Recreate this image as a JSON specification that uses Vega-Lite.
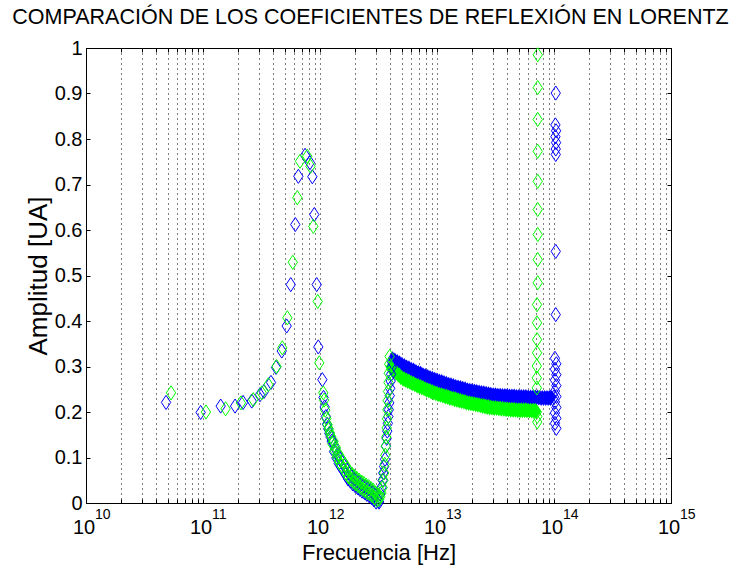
{
"$schema":"https://vega.github.io/schema/vega-lite/v6.json",
"width":585,"height":455,
"autosize":{"type":"none"},
"padding":{"left":86,"top":48,"right":69,"bottom":74},
"background":"white",
"title":{"text":"COMPARACIÓN DE LOS COEFICIENTES DE REFLEXIÓN EN LORENTZ","font":"Liberation Sans","fontSize":21.5,"fontWeight":"normal","color":"black","anchor":"middle","offset":10,"dx":-8},
"config":{"view":{"stroke":"black","strokeWidth":1},"font":"Liberation Sans"},
"data":{"values":[
{"frec":4.83e10,"amp":0.221,"serie":"C1"},{"frec":9.55e10,"amp":0.199,"serie":"C1"},{"frec":1.416e11,"amp":0.213,"serie":"C1"},{"frec":1.88e11,"amp":0.213,"serie":"C1"},{"frec":2.2e11,"amp":0.221,"serie":"C1"},{"frec":2.61e11,"amp":0.224,"serie":"C1"},{"frec":3.07e11,"amp":0.238,"serie":"C1"},{"frec":3.32e11,"amp":0.245,"serie":"C1"},{"frec":3.81e11,"amp":0.265,"serie":"C1"},{"frec":4.21e11,"amp":0.298,"serie":"C1"},{"frec":4.71e11,"amp":0.334,"serie":"C1"},{"frec":5.19e11,"amp":0.389,"serie":"C1"},{"frec":5.62e11,"amp":0.48,"serie":"C1"},{"frec":6.15e11,"amp":0.612,"serie":"C1"},{"frec":6.53e11,"amp":0.718,"serie":"C1"},{"frec":7.45e11,"amp":0.764,"serie":"C1"},{"frec":8.2e11,"amp":0.748,"serie":"C1"},{"frec":8.6e11,"amp":0.717,"serie":"C1"},{"frec":8.94e11,"amp":0.634,"serie":"C1"},{"frec":9.37e11,"amp":0.48,"serie":"C1"},{"frec":9.67e11,"amp":0.343,"serie":"C1"},{"frec":1.047e12,"amp":0.271,"serie":"C1"},
{"frec":1.072e12,"amp":0.232,"serie":"C1"},{"frec":1.096e12,"amp":0.211,"serie":"C1"},{"frec":1.122e12,"amp":0.19,"serie":"C1"},{"frec":1.148e12,"amp":0.173,"serie":"C1"},{"frec":1.175e12,"amp":0.163,"serie":"C1"},{"frec":1.202e12,"amp":0.153,"serie":"C1"},{"frec":1.23e12,"amp":0.145,"serie":"C1"},{"frec":1.259e12,"amp":0.136,"serie":"C1"},
{"frec":1.288e12,"amp":0.135,"serie":"C1"},{"frec":1.318e12,"amp":0.113,"serie":"C1"},{"frec":1.349e12,"amp":0.12,"serie":"C1"},{"frec":1.38e12,"amp":0.099,"serie":"C1"},{"frec":1.413e12,"amp":0.107,"serie":"C1"},{"frec":1.445e12,"amp":0.087,"serie":"C1"},{"frec":1.479e12,"amp":0.097,"serie":"C1"},{"frec":1.514e12,"amp":0.079,"serie":"C1"},{"frec":1.549e12,"amp":0.089,"serie":"C1"},{"frec":1.585e12,"amp":0.071,"serie":"C1"},{"frec":1.622e12,"amp":0.081,"serie":"C1"},{"frec":1.66e12,"amp":0.062,"serie":"C1"},{"frec":1.698e12,"amp":0.072,"serie":"C1"},{"frec":1.738e12,"amp":0.053,"serie":"C1"},{"frec":1.778e12,"amp":0.064,"serie":"C1"},{"frec":1.82e12,"amp":0.048,"serie":"C1"},{"frec":1.862e12,"amp":0.059,"serie":"C1"},{"frec":1.905e12,"amp":0.042,"serie":"C1"},{"frec":1.95e12,"amp":0.054,"serie":"C1"},{"frec":1.995e12,"amp":0.038,"serie":"C1"},{"frec":2.042e12,"amp":0.05,"serie":"C1"},{"frec":2.089e12,"amp":0.034,"serie":"C1"},{"frec":2.138e12,"amp":0.046,"serie":"C1"},{"frec":2.188e12,"amp":0.03,"serie":"C1"},{"frec":2.239e12,"amp":0.042,"serie":"C1"},{"frec":2.291e12,"amp":0.026,"serie":"C1"},{"frec":2.344e12,"amp":0.038,"serie":"C1"},{"frec":2.399e12,"amp":0.023,"serie":"C1"},{"frec":2.455e12,"amp":0.035,"serie":"C1"},{"frec":2.512e12,"amp":0.019,"serie":"C1"},{"frec":2.57e12,"amp":0.031,"serie":"C1"},{"frec":2.63e12,"amp":0.016,"serie":"C1"},{"frec":2.692e12,"amp":0.028,"serie":"C1"},{"frec":2.754e12,"amp":0.012,"serie":"C1"},{"frec":2.818e12,"amp":0.024,"serie":"C1"},{"frec":2.884e12,"amp":0.007,"serie":"C1"},{"frec":2.951e12,"amp":0.018,"serie":"C1"},{"frec":3.02e12,"amp":0.002,"serie":"C1"},{"frec":3.09e12,"amp":0.014,"serie":"C1"},{"frec":3.162e12,"amp":0.004,"serie":"C1"},
{"frec":3.199e12,"amp":0.002,"serie":"C1"},{"frec":3.273e12,"amp":0.02,"serie":"C1"},{"frec":3.365e12,"amp":0.035,"serie":"C1"},{"frec":3.428e12,"amp":0.05,"serie":"C1"},{"frec":3.475e12,"amp":0.066,"serie":"C1"},{"frec":3.532e12,"amp":0.08,"serie":"C1"},{"frec":3.597e12,"amp":0.096,"serie":"C1"},{"frec":3.664e12,"amp":0.125,"serie":"C1"},{"frec":3.715e12,"amp":0.142,"serie":"C1"},{"frec":3.758e12,"amp":0.158,"serie":"C1"},{"frec":3.802e12,"amp":0.175,"serie":"C1"},{"frec":3.837e12,"amp":0.19,"serie":"C1"},{"frec":3.873e12,"amp":0.205,"serie":"C1"},{"frec":3.908e12,"amp":0.22,"serie":"C1"},{"frec":3.945e12,"amp":0.236,"serie":"C1"},{"frec":3.981e12,"amp":0.252,"serie":"C1"},{"frec":4.018e12,"amp":0.268,"serie":"C1"},{"frec":4.055e12,"amp":0.283,"serie":"C1"},{"frec":4.093e12,"amp":0.298,"serie":"C1"},{"frec":4.13e12,"amp":0.31,"serie":"C1"},
{"frec":4.169e12,"amp":0.318,"serie":"C1"},{"frec":4.266e12,"amp":0.312,"serie":"C1"},{"frec":4.365e12,"amp":0.315,"serie":"C1"},{"frec":4.467e12,"amp":0.31,"serie":"C1"},{"frec":4.571e12,"amp":0.312,"serie":"C1"},{"frec":4.677e12,"amp":0.306,"serie":"C1"},{"frec":4.786e12,"amp":0.309,"serie":"C1"},{"frec":4.898e12,"amp":0.303,"serie":"C1"},{"frec":5.012e12,"amp":0.306,"serie":"C1"},{"frec":5.129e12,"amp":0.3,"serie":"C1"},{"frec":5.248e12,"amp":0.303,"serie":"C1"},{"frec":5.37e12,"amp":0.298,"serie":"C1"},{"frec":5.495e12,"amp":0.3,"serie":"C1"},{"frec":5.623e12,"amp":0.295,"serie":"C1"},{"frec":5.754e12,"amp":0.298,"serie":"C1"},{"frec":5.888e12,"amp":0.293,"serie":"C1"},{"frec":6.026e12,"amp":0.295,"serie":"C1"},{"frec":6.166e12,"amp":0.29,"serie":"C1"},{"frec":6.31e12,"amp":0.293,"serie":"C1"},{"frec":6.457e12,"amp":0.288,"serie":"C1"},{"frec":6.607e12,"amp":0.29,"serie":"C1"},{"frec":6.761e12,"amp":0.285,"serie":"C1"},{"frec":6.918e12,"amp":0.288,"serie":"C1"},{"frec":7.079e12,"amp":0.283,"serie":"C1"},{"frec":7.244e12,"amp":0.286,"serie":"C1"},{"frec":7.413e12,"amp":0.28,"serie":"C1"},{"frec":7.586e12,"amp":0.283,"serie":"C1"},{"frec":7.762e12,"amp":0.278,"serie":"C1"},{"frec":7.943e12,"amp":0.281,"serie":"C1"},{"frec":8.128e12,"amp":0.276,"serie":"C1"},{"frec":8.318e12,"amp":0.279,"serie":"C1"},{"frec":8.511e12,"amp":0.274,"serie":"C1"},{"frec":8.71e12,"amp":0.277,"serie":"C1"},{"frec":8.913e12,"amp":0.272,"serie":"C1"},{"frec":9.12e12,"amp":0.275,"serie":"C1"},{"frec":9.333e12,"amp":0.27,"serie":"C1"},{"frec":9.55e12,"amp":0.273,"serie":"C1"},{"frec":9.772e12,"amp":0.268,"serie":"C1"},
{"frec":1.0e13,"amp":0.271,"serie":"C1"},{"frec":1.023e13,"amp":0.266,"serie":"C1"},{"frec":1.047e13,"amp":0.269,"serie":"C1"},{"frec":1.072e13,"amp":0.264,"serie":"C1"},{"frec":1.096e13,"amp":0.268,"serie":"C1"},{"frec":1.122e13,"amp":0.263,"serie":"C1"},{"frec":1.148e13,"amp":0.266,"serie":"C1"},{"frec":1.175e13,"amp":0.261,"serie":"C1"},{"frec":1.202e13,"amp":0.264,"serie":"C1"},{"frec":1.23e13,"amp":0.259,"serie":"C1"},{"frec":1.259e13,"amp":0.262,"serie":"C1"},{"frec":1.288e13,"amp":0.257,"serie":"C1"},{"frec":1.318e13,"amp":0.261,"serie":"C1"},{"frec":1.349e13,"amp":0.256,"serie":"C1"},{"frec":1.38e13,"amp":0.259,"serie":"C1"},{"frec":1.413e13,"amp":0.254,"serie":"C1"},{"frec":1.445e13,"amp":0.257,"serie":"C1"},{"frec":1.479e13,"amp":0.253,"serie":"C1"},{"frec":1.514e13,"amp":0.256,"serie":"C1"},{"frec":1.549e13,"amp":0.251,"serie":"C1"},{"frec":1.585e13,"amp":0.255,"serie":"C1"},{"frec":1.622e13,"amp":0.25,"serie":"C1"},{"frec":1.66e13,"amp":0.253,"serie":"C1"},{"frec":1.698e13,"amp":0.249,"serie":"C1"},{"frec":1.738e13,"amp":0.252,"serie":"C1"},{"frec":1.778e13,"amp":0.247,"serie":"C1"},{"frec":1.82e13,"amp":0.25,"serie":"C1"},{"frec":1.862e13,"amp":0.246,"serie":"C1"},{"frec":1.905e13,"amp":0.249,"serie":"C1"},{"frec":1.95e13,"amp":0.245,"serie":"C1"},{"frec":1.995e13,"amp":0.248,"serie":"C1"},{"frec":2.042e13,"amp":0.244,"serie":"C1"},{"frec":2.089e13,"amp":0.247,"serie":"C1"},{"frec":2.138e13,"amp":0.243,"serie":"C1"},{"frec":2.188e13,"amp":0.246,"serie":"C1"},{"frec":2.239e13,"amp":0.241,"serie":"C1"},{"frec":2.291e13,"amp":0.245,"serie":"C1"},{"frec":2.344e13,"amp":0.24,"serie":"C1"},{"frec":2.399e13,"amp":0.244,"serie":"C1"},{"frec":2.455e13,"amp":0.239,"serie":"C1"},{"frec":2.512e13,"amp":0.243,"serie":"C1"},{"frec":2.57e13,"amp":0.238,"serie":"C1"},{"frec":2.63e13,"amp":0.242,"serie":"C1"},{"frec":2.692e13,"amp":0.237,"serie":"C1"},{"frec":2.754e13,"amp":0.241,"serie":"C1"},{"frec":2.818e13,"amp":0.236,"serie":"C1"},{"frec":2.884e13,"amp":0.24,"serie":"C1"},{"frec":2.951e13,"amp":0.236,"serie":"C1"},{"frec":3.02e13,"amp":0.239,"serie":"C1"},{"frec":3.09e13,"amp":0.235,"serie":"C1"},{"frec":3.162e13,"amp":0.239,"serie":"C1"},{"frec":3.236e13,"amp":0.235,"serie":"C1"},{"frec":3.311e13,"amp":0.238,"serie":"C1"},{"frec":3.388e13,"amp":0.234,"serie":"C1"},{"frec":3.467e13,"amp":0.238,"serie":"C1"},{"frec":3.548e13,"amp":0.234,"serie":"C1"},{"frec":3.631e13,"amp":0.237,"serie":"C1"},{"frec":3.715e13,"amp":0.233,"serie":"C1"},{"frec":3.802e13,"amp":0.237,"serie":"C1"},{"frec":3.89e13,"amp":0.233,"serie":"C1"},{"frec":3.981e13,"amp":0.237,"serie":"C1"},{"frec":4.074e13,"amp":0.232,"serie":"C1"},{"frec":4.169e13,"amp":0.236,"serie":"C1"},{"frec":4.266e13,"amp":0.232,"serie":"C1"},{"frec":4.365e13,"amp":0.236,"serie":"C1"},{"frec":4.467e13,"amp":0.232,"serie":"C1"},{"frec":4.571e13,"amp":0.236,"serie":"C1"},{"frec":4.677e13,"amp":0.232,"serie":"C1"},{"frec":4.786e13,"amp":0.235,"serie":"C1"},{"frec":4.898e13,"amp":0.231,"serie":"C1"},{"frec":5.012e13,"amp":0.235,"serie":"C1"},{"frec":5.129e13,"amp":0.231,"serie":"C1"},{"frec":5.248e13,"amp":0.235,"serie":"C1"},{"frec":5.37e13,"amp":0.231,"serie":"C1"},{"frec":5.495e13,"amp":0.235,"serie":"C1"},{"frec":5.623e13,"amp":0.231,"serie":"C1"},{"frec":5.754e13,"amp":0.235,"serie":"C1"},{"frec":5.888e13,"amp":0.231,"serie":"C1"},{"frec":6.026e13,"amp":0.234,"serie":"C1"},{"frec":6.166e13,"amp":0.23,"serie":"C1"},{"frec":6.31e13,"amp":0.234,"serie":"C1"},{"frec":6.457e13,"amp":0.23,"serie":"C1"},{"frec":6.607e13,"amp":0.234,"serie":"C1"},{"frec":6.761e13,"amp":0.23,"serie":"C1"},{"frec":6.918e13,"amp":0.234,"serie":"C1"},{"frec":7.079e13,"amp":0.23,"serie":"C1"},{"frec":7.244e13,"amp":0.234,"serie":"C1"},{"frec":7.413e13,"amp":0.23,"serie":"C1"},{"frec":7.586e13,"amp":0.233,"serie":"C1"},{"frec":7.762e13,"amp":0.229,"serie":"C1"},{"frec":7.943e13,"amp":0.233,"serie":"C1"},{"frec":8.128e13,"amp":0.229,"serie":"C1"},{"frec":8.318e13,"amp":0.233,"serie":"C1"},{"frec":8.511e13,"amp":0.229,"serie":"C1"},{"frec":8.71e13,"amp":0.233,"serie":"C1"},{"frec":8.913e13,"amp":0.229,"serie":"C1"},{"frec":9.12e13,"amp":0.233,"serie":"C1"},{"frec":9.333e13,"amp":0.229,"serie":"C1"},{"frec":9.55e13,"amp":0.233,"serie":"C1"},
{"frec":1.035e14,"amp":0.901,"serie":"C1"},{"frec":1.028e14,"amp":0.831,"serie":"C1"},{"frec":1.042e14,"amp":0.818,"serie":"C1"},{"frec":1.028e14,"amp":0.805,"serie":"C1"},{"frec":1.042e14,"amp":0.792,"serie":"C1"},{"frec":1.035e14,"amp":0.778,"serie":"C1"},{"frec":1.035e14,"amp":0.766,"serie":"C1"},{"frec":1.035e14,"amp":0.553,"serie":"C1"},{"frec":1.035e14,"amp":0.414,"serie":"C1"},
{"frec":1.019e14,"amp":0.318,"serie":"C1"},{"frec":1.047e14,"amp":0.306,"serie":"C1"},{"frec":1.019e14,"amp":0.294,"serie":"C1"},{"frec":1.047e14,"amp":0.282,"serie":"C1"},{"frec":1.019e14,"amp":0.27,"serie":"C1"},{"frec":1.047e14,"amp":0.258,"serie":"C1"},{"frec":1.019e14,"amp":0.246,"serie":"C1"},{"frec":1.0e14,"amp":0.233,"serie":"C1"},{"frec":1.047e14,"amp":0.234,"serie":"C1"},{"frec":1.019e14,"amp":0.222,"serie":"C1"},{"frec":1.047e14,"amp":0.21,"serie":"C1"},{"frec":1.019e14,"amp":0.198,"serie":"C1"},{"frec":1.047e14,"amp":0.186,"serie":"C1"},{"frec":1.019e14,"amp":0.175,"serie":"C1"},{"frec":1.047e14,"amp":0.164,"serie":"C1"},
{"frec":5.33e10,"amp":0.242,"serie":"C2"},{"frec":1.06e11,"amp":0.2,"serie":"C2"},{"frec":1.56e11,"amp":0.207,"serie":"C2"},{"frec":2.11e11,"amp":0.22,"serie":"C2"},{"frec":2.69e11,"amp":0.227,"serie":"C2"},{"frec":3.18e11,"amp":0.242,"serie":"C2"},{"frec":3.62e11,"amp":0.26,"serie":"C2"},{"frec":4.25e11,"amp":0.3,"serie":"C2"},{"frec":4.76e11,"amp":0.341,"serie":"C2"},{"frec":5.26e11,"amp":0.407,"serie":"C2"},{"frec":5.85e11,"amp":0.529,"serie":"C2"},{"frec":6.4e11,"amp":0.671,"serie":"C2"},{"frec":6.75e11,"amp":0.751,"serie":"C2"},{"frec":7.78e11,"amp":0.762,"serie":"C2"},{"frec":8.3e11,"amp":0.74,"serie":"C2"},{"frec":8.77e11,"amp":0.608,"serie":"C2"},{"frec":9.56e11,"amp":0.443,"serie":"C2"},{"frec":9.86e11,"amp":0.308,"serie":"C2"},{"frec":1.067e12,"amp":0.242,"serie":"C2"},
{"frec":1.084e12,"amp":0.226,"serie":"C2"},{"frec":1.109e12,"amp":0.204,"serie":"C2"},{"frec":1.135e12,"amp":0.186,"serie":"C2"},{"frec":1.161e12,"amp":0.172,"serie":"C2"},{"frec":1.189e12,"amp":0.163,"serie":"C2"},{"frec":1.216e12,"amp":0.154,"serie":"C2"},{"frec":1.245e12,"amp":0.146,"serie":"C2"},
{"frec":1.274e12,"amp":0.13,"serie":"C2"},{"frec":1.303e12,"amp":0.136,"serie":"C2"},{"frec":1.334e12,"amp":0.115,"serie":"C2"},{"frec":1.365e12,"amp":0.122,"serie":"C2"},{"frec":1.396e12,"amp":0.101,"serie":"C2"},{"frec":1.429e12,"amp":0.109,"serie":"C2"},{"frec":1.462e12,"amp":0.09,"serie":"C2"},{"frec":1.496e12,"amp":0.1,"serie":"C2"},{"frec":1.531e12,"amp":0.082,"serie":"C2"},{"frec":1.567e12,"amp":0.092,"serie":"C2"},{"frec":1.603e12,"amp":0.074,"serie":"C2"},{"frec":1.641e12,"amp":0.084,"serie":"C2"},{"frec":1.679e12,"amp":0.065,"serie":"C2"},{"frec":1.718e12,"amp":0.075,"serie":"C2"},{"frec":1.758e12,"amp":0.057,"serie":"C2"},{"frec":1.799e12,"amp":0.068,"serie":"C2"},{"frec":1.841e12,"amp":0.052,"serie":"C2"},{"frec":1.884e12,"amp":0.063,"serie":"C2"},{"frec":1.928e12,"amp":0.046,"serie":"C2"},{"frec":1.972e12,"amp":0.058,"serie":"C2"},{"frec":2.018e12,"amp":0.042,"serie":"C2"},{"frec":2.065e12,"amp":0.054,"serie":"C2"},{"frec":2.113e12,"amp":0.038,"serie":"C2"},{"frec":2.163e12,"amp":0.05,"serie":"C2"},{"frec":2.213e12,"amp":0.034,"serie":"C2"},{"frec":2.265e12,"amp":0.046,"serie":"C2"},{"frec":2.317e12,"amp":0.03,"serie":"C2"},{"frec":2.371e12,"amp":0.043,"serie":"C2"},{"frec":2.427e12,"amp":0.027,"serie":"C2"},{"frec":2.483e12,"amp":0.039,"serie":"C2"},{"frec":2.541e12,"amp":0.023,"serie":"C2"},{"frec":2.6e12,"amp":0.036,"serie":"C2"},{"frec":2.661e12,"amp":0.02,"serie":"C2"},{"frec":2.723e12,"amp":0.032,"serie":"C2"},{"frec":2.786e12,"amp":0.016,"serie":"C2"},{"frec":2.851e12,"amp":0.028,"serie":"C2"},{"frec":2.917e12,"amp":0.011,"serie":"C2"},{"frec":2.985e12,"amp":0.022,"serie":"C2"},{"frec":3.055e12,"amp":0.006,"serie":"C2"},{"frec":3.126e12,"amp":0.017,"serie":"C2"},
{"frec":3.199e12,"amp":0.008,"serie":"C2"},{"frec":3.273e12,"amp":0.014,"serie":"C2"},{"frec":3.35e12,"amp":0.022,"serie":"C2"},{"frec":3.428e12,"amp":0.034,"serie":"C2"},{"frec":3.483e12,"amp":0.05,"serie":"C2"},{"frec":3.532e12,"amp":0.066,"serie":"C2"},{"frec":3.573e12,"amp":0.085,"serie":"C2"},{"frec":3.614e12,"amp":0.105,"serie":"C2"},{"frec":3.648e12,"amp":0.125,"serie":"C2"},{"frec":3.681e12,"amp":0.145,"serie":"C2"},{"frec":3.715e12,"amp":0.165,"serie":"C2"},{"frec":3.741e12,"amp":0.185,"serie":"C2"},{"frec":3.767e12,"amp":0.205,"serie":"C2"},{"frec":3.793e12,"amp":0.225,"serie":"C2"},{"frec":3.819e12,"amp":0.245,"serie":"C2"},{"frec":3.846e12,"amp":0.265,"serie":"C2"},{"frec":3.873e12,"amp":0.285,"serie":"C2"},{"frec":3.899e12,"amp":0.305,"serie":"C2"},{"frec":3.936e12,"amp":0.322,"serie":"C2"},
{"frec":3.981e12,"amp":0.299,"serie":"C2"},{"frec":4.074e12,"amp":0.293,"serie":"C2"},{"frec":4.169e12,"amp":0.295,"serie":"C2"},{"frec":4.266e12,"amp":0.288,"serie":"C2"},{"frec":4.365e12,"amp":0.29,"serie":"C2"},{"frec":4.467e12,"amp":0.284,"serie":"C2"},{"frec":4.571e12,"amp":0.286,"serie":"C2"},{"frec":4.677e12,"amp":0.28,"serie":"C2"},{"frec":4.786e12,"amp":0.282,"serie":"C2"},{"frec":4.898e12,"amp":0.275,"serie":"C2"},{"frec":5.012e12,"amp":0.277,"serie":"C2"},{"frec":5.129e12,"amp":0.271,"serie":"C2"},{"frec":5.248e12,"amp":0.274,"serie":"C2"},{"frec":5.37e12,"amp":0.269,"serie":"C2"},{"frec":5.495e12,"amp":0.271,"serie":"C2"},{"frec":5.623e12,"amp":0.266,"serie":"C2"},{"frec":5.754e12,"amp":0.269,"serie":"C2"},{"frec":5.888e12,"amp":0.264,"serie":"C2"},{"frec":6.026e12,"amp":0.266,"serie":"C2"},{"frec":6.166e12,"amp":0.261,"serie":"C2"},{"frec":6.31e12,"amp":0.264,"serie":"C2"},{"frec":6.457e12,"amp":0.259,"serie":"C2"},{"frec":6.607e12,"amp":0.261,"serie":"C2"},{"frec":6.761e12,"amp":0.256,"serie":"C2"},{"frec":6.918e12,"amp":0.259,"serie":"C2"},{"frec":7.079e12,"amp":0.254,"serie":"C2"},{"frec":7.244e12,"amp":0.257,"serie":"C2"},{"frec":7.413e12,"amp":0.252,"serie":"C2"},{"frec":7.586e12,"amp":0.255,"serie":"C2"},{"frec":7.762e12,"amp":0.25,"serie":"C2"},{"frec":7.943e12,"amp":0.252,"serie":"C2"},{"frec":8.128e12,"amp":0.247,"serie":"C2"},{"frec":8.318e12,"amp":0.25,"serie":"C2"},{"frec":8.511e12,"amp":0.245,"serie":"C2"},{"frec":8.71e12,"amp":0.248,"serie":"C2"},{"frec":8.913e12,"amp":0.243,"serie":"C2"},{"frec":9.12e12,"amp":0.246,"serie":"C2"},{"frec":9.333e12,"amp":0.241,"serie":"C2"},{"frec":9.55e12,"amp":0.244,"serie":"C2"},{"frec":9.772e12,"amp":0.239,"serie":"C2"},
{"frec":1.0e13,"amp":0.242,"serie":"C2"},{"frec":1.023e13,"amp":0.237,"serie":"C2"},{"frec":1.047e13,"amp":0.24,"serie":"C2"},{"frec":1.072e13,"amp":0.236,"serie":"C2"},{"frec":1.096e13,"amp":0.239,"serie":"C2"},{"frec":1.122e13,"amp":0.234,"serie":"C2"},{"frec":1.148e13,"amp":0.237,"serie":"C2"},{"frec":1.175e13,"amp":0.232,"serie":"C2"},{"frec":1.202e13,"amp":0.236,"serie":"C2"},{"frec":1.23e13,"amp":0.231,"serie":"C2"},{"frec":1.259e13,"amp":0.234,"serie":"C2"},{"frec":1.288e13,"amp":0.229,"serie":"C2"},{"frec":1.318e13,"amp":0.232,"serie":"C2"},{"frec":1.349e13,"amp":0.228,"serie":"C2"},{"frec":1.38e13,"amp":0.231,"serie":"C2"},{"frec":1.413e13,"amp":0.226,"serie":"C2"},{"frec":1.445e13,"amp":0.23,"serie":"C2"},{"frec":1.479e13,"amp":0.225,"serie":"C2"},{"frec":1.514e13,"amp":0.228,"serie":"C2"},{"frec":1.549e13,"amp":0.223,"serie":"C2"},{"frec":1.585e13,"amp":0.227,"serie":"C2"},{"frec":1.622e13,"amp":0.222,"serie":"C2"},{"frec":1.66e13,"amp":0.225,"serie":"C2"},{"frec":1.698e13,"amp":0.221,"serie":"C2"},{"frec":1.738e13,"amp":0.224,"serie":"C2"},{"frec":1.778e13,"amp":0.219,"serie":"C2"},{"frec":1.82e13,"amp":0.222,"serie":"C2"},{"frec":1.862e13,"amp":0.218,"serie":"C2"},{"frec":1.905e13,"amp":0.221,"serie":"C2"},{"frec":1.95e13,"amp":0.217,"serie":"C2"},{"frec":1.995e13,"amp":0.22,"serie":"C2"},{"frec":2.042e13,"amp":0.216,"serie":"C2"},{"frec":2.089e13,"amp":0.219,"serie":"C2"},{"frec":2.138e13,"amp":0.215,"serie":"C2"},{"frec":2.188e13,"amp":0.218,"serie":"C2"},{"frec":2.239e13,"amp":0.214,"serie":"C2"},{"frec":2.291e13,"amp":0.217,"serie":"C2"},{"frec":2.344e13,"amp":0.213,"serie":"C2"},{"frec":2.399e13,"amp":0.216,"serie":"C2"},{"frec":2.455e13,"amp":0.211,"serie":"C2"},{"frec":2.512e13,"amp":0.215,"serie":"C2"},{"frec":2.57e13,"amp":0.21,"serie":"C2"},{"frec":2.63e13,"amp":0.214,"serie":"C2"},{"frec":2.692e13,"amp":0.209,"serie":"C2"},{"frec":2.754e13,"amp":0.213,"serie":"C2"},{"frec":2.818e13,"amp":0.208,"serie":"C2"},{"frec":2.884e13,"amp":0.212,"serie":"C2"},{"frec":2.951e13,"amp":0.208,"serie":"C2"},{"frec":3.02e13,"amp":0.211,"serie":"C2"},{"frec":3.09e13,"amp":0.207,"serie":"C2"},{"frec":3.162e13,"amp":0.211,"serie":"C2"},{"frec":3.236e13,"amp":0.207,"serie":"C2"},{"frec":3.311e13,"amp":0.21,"serie":"C2"},{"frec":3.388e13,"amp":0.206,"serie":"C2"},{"frec":3.467e13,"amp":0.21,"serie":"C2"},{"frec":3.548e13,"amp":0.205,"serie":"C2"},{"frec":3.631e13,"amp":0.209,"serie":"C2"},{"frec":3.715e13,"amp":0.205,"serie":"C2"},{"frec":3.802e13,"amp":0.208,"serie":"C2"},{"frec":3.89e13,"amp":0.204,"serie":"C2"},{"frec":3.981e13,"amp":0.208,"serie":"C2"},{"frec":4.074e13,"amp":0.204,"serie":"C2"},{"frec":4.169e13,"amp":0.207,"serie":"C2"},{"frec":4.266e13,"amp":0.203,"serie":"C2"},{"frec":4.365e13,"amp":0.207,"serie":"C2"},{"frec":4.467e13,"amp":0.203,"serie":"C2"},{"frec":4.571e13,"amp":0.207,"serie":"C2"},{"frec":4.677e13,"amp":0.203,"serie":"C2"},{"frec":4.786e13,"amp":0.206,"serie":"C2"},{"frec":4.898e13,"amp":0.202,"serie":"C2"},{"frec":5.012e13,"amp":0.206,"serie":"C2"},{"frec":5.129e13,"amp":0.202,"serie":"C2"},{"frec":5.248e13,"amp":0.206,"serie":"C2"},{"frec":5.37e13,"amp":0.202,"serie":"C2"},{"frec":5.495e13,"amp":0.206,"serie":"C2"},{"frec":5.623e13,"amp":0.202,"serie":"C2"},{"frec":5.754e13,"amp":0.206,"serie":"C2"},{"frec":5.888e13,"amp":0.202,"serie":"C2"},{"frec":6.026e13,"amp":0.205,"serie":"C2"},{"frec":6.166e13,"amp":0.201,"serie":"C2"},{"frec":6.31e13,"amp":0.205,"serie":"C2"},{"frec":6.457e13,"amp":0.201,"serie":"C2"},{"frec":6.607e13,"amp":0.205,"serie":"C2"},{"frec":6.761e13,"amp":0.201,"serie":"C2"},{"frec":6.918e13,"amp":0.205,"serie":"C2"},{"frec":7.079e13,"amp":0.201,"serie":"C2"},
{"frec":7.129e13,"amp":0.2,"serie":"C2"},{"frec":7.194e13,"amp":0.19,"serie":"C2"},{"frec":7.194e13,"amp":0.178,"serie":"C2"},
{"frec":7.129e13,"amp":0.253,"serie":"C2"},{"frec":7.129e13,"amp":0.275,"serie":"C2"},{"frec":7.129e13,"amp":0.301,"serie":"C2"},{"frec":7.161e13,"amp":0.33,"serie":"C2"},{"frec":7.161e13,"amp":0.359,"serie":"C2"},{"frec":7.161e13,"amp":0.396,"serie":"C2"},{"frec":7.161e13,"amp":0.436,"serie":"C2"},{"frec":7.261e13,"amp":0.484,"serie":"C2"},{"frec":7.261e13,"amp":0.535,"serie":"C2"},{"frec":7.261e13,"amp":0.59,"serie":"C2"},{"frec":7.261e13,"amp":0.645,"serie":"C2"},{"frec":7.261e13,"amp":0.707,"serie":"C2"},{"frec":7.261e13,"amp":0.773,"serie":"C2"},{"frec":7.261e13,"amp":0.843,"serie":"C2"},{"frec":7.261e13,"amp":0.913,"serie":"C2"},{"frec":7.261e13,"amp":0.985,"serie":"C2"}
]},
"layer":[
{"transform":[{"filter":"(datum.serie == 'C1' && datum.frec >= 4.16e12 && datum.frec <= 9.6e13) || (datum.serie == 'C2' && datum.frec >= 3.98e12 && datum.frec <= 7.08e13)"}],
"mark":{"type":"point","shape":"M0,-1L0.66,0L0,1L-0.66,0Z","filled":true,"size":200,"strokeWidth":0,"opacity":1},
"encoding":{
"x":{"field":"frec","type":"quantitative","scale":{"type":"log","domain":[1e10,1e15],"nice":false},
"axis":{"values":[1e10,2e10,3e10,4e10,5e10,6e10,7e10,8e10,9e10,1e11,2e11,3e11,4e11,5e11,6e11,7e11,8e11,9e11,1e12,2e12,3e12,4e12,5e12,6e12,7e12,8e12,9e12,1e13,2e13,3e13,4e13,5e13,6e13,7e13,8e13,9e13,1e14,2e14,3e14,4e14,5e14,6e14,7e14,8e14,9e14,1e15],
"grid":true,"gridColor":"black","gridDash":[1,4],"gridOpacity":1,"gridWidth":1,
"ticks":true,"tickSize":-4,"tickColor":"black","domainColor":"black","labels":false,
"title":"Frecuencia [Hz]","titleFont":"Liberation Sans","titleFontSize":22,"titleFontWeight":"normal","titleColor":"black","titlePadding":39}},
"y":{"field":"amp","type":"quantitative","scale":{"domain":[0,1],"nice":false},
"axis":{"values":[0,0.1,0.2,0.3,0.4,0.5,0.6,0.7,0.8,0.9,1],"format":"~g","grid":false,
"ticks":true,"tickSize":-4,"tickColor":"black","domainColor":"black",
"labelFont":"Liberation Sans","labelFontSize":20,"labelColor":"black","labelPadding":8,
"title":"Amplitud [UA]","titleFont":"Liberation Sans","titleFontSize":26,"titleFontWeight":"normal","titleColor":"black","titlePadding":3}},
"color":{"field":"serie","type":"nominal","scale":{"domain":["C1","C2"],"range":["#0000ff","#00ff00"]},"legend":null}
}},
{"transform":[{"filter":"!((datum.serie == 'C1' && datum.frec >= 4.16e12 && datum.frec <= 9.6e13) || (datum.serie == 'C2' && datum.frec >= 3.98e12 && datum.frec <= 7.08e13))"}],
"mark":{"type":"point","shape":"M0,-1L0.66,0L0,1L-0.66,0Z","filled":false,"size":200,"strokeWidth":1,"opacity":1},
"encoding":{
"x":{"field":"frec","type":"quantitative","scale":{"type":"log","domain":[1e10,1e15],"nice":false},"axis":null},
"y":{"field":"amp","type":"quantitative","scale":{"domain":[0,1],"nice":false},"axis":null},
"color":{"field":"serie","type":"nominal","scale":{"domain":["C1","C2"],"range":["#0000ff","#00ff00"]},"legend":null}
}},
{"data":{"values":[{"frec":1e10,"base":"10","exp":"10"},{"frec":1e11,"base":"10","exp":"11"},{"frec":1e12,"base":"10","exp":"12"},{"frec":1e13,"base":"10","exp":"13"},{"frec":1e14,"base":"10","exp":"14"},{"frec":1e15,"base":"10","exp":"15"}]},
"layer":[
{"mark":{"type":"text","font":"Liberation Sans","fontSize":20,"align":"center","baseline":"alphabetic","dx":-2,"dy":31,"color":"black"},
"encoding":{"x":{"field":"frec","type":"quantitative","scale":{"type":"log","domain":[1e10,1e15],"nice":false},"axis":null},"y":{"datum":0,"type":"quantitative","scale":{"domain":[0,1],"nice":false},"axis":null},"text":{"field":"base"}}},
{"mark":{"type":"text","font":"Liberation Sans","fontSize":14,"align":"left","baseline":"alphabetic","dx":9,"dy":16,"color":"black"},
"encoding":{"x":{"field":"frec","type":"quantitative","scale":{"type":"log","domain":[1e10,1e15],"nice":false},"axis":null},"y":{"datum":0,"type":"quantitative","scale":{"domain":[0,1],"nice":false},"axis":null},"text":{"field":"exp"}}}
]},
{"data":{"values":[{"frec":1e12,"amp":0.5}]},
"mark":{"type":"point","opacity":0},
"encoding":{
"x":{"field":"frec","type":"quantitative","scale":{"type":"log","domain":[1e10,1e15],"nice":false},
"axis":{"orient":"top","values":[1e10,2e10,3e10,4e10,5e10,6e10,7e10,8e10,9e10,1e11,2e11,3e11,4e11,5e11,6e11,7e11,8e11,9e11,1e12,2e12,3e12,4e12,5e12,6e12,7e12,8e12,9e12,1e13,2e13,3e13,4e13,5e13,6e13,7e13,8e13,9e13,1e14,2e14,3e14,4e14,5e14,6e14,7e14,8e14,9e14,1e15],"labels":false,"grid":false,"domain":false,"ticks":true,"tickSize":-4,"tickColor":"black","title":null}},
"y":{"field":"amp","type":"quantitative","scale":{"domain":[0,1],"nice":false},
"axis":{"orient":"right","values":[0,0.1,0.2,0.3,0.4,0.5,0.6,0.7,0.8,0.9,1],"labels":false,"grid":false,"domain":false,"ticks":true,"tickSize":-4,"tickColor":"black","title":null}}
}}
],
"resolve":{"axis":{"x":"independent","y":"independent"}}
}
